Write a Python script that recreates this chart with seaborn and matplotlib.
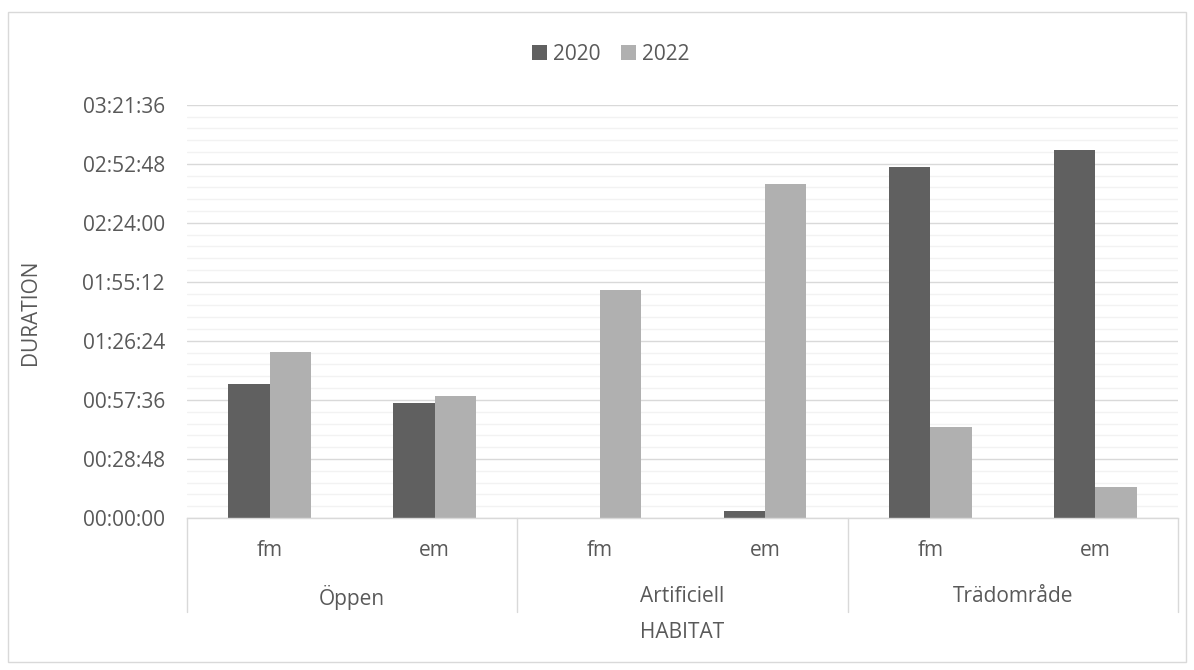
import numpy as np
import pandas as pd
import seaborn as sns
import matplotlib
matplotlib.use("Agg")
import matplotlib.pyplot as plt
from matplotlib.ticker import FuncFormatter, MultipleLocator
from matplotlib.patches import Rectangle, Patch
from matplotlib.lines import Line2D
import matplotlib.transforms as mtransforms

# Habitat groups and the sub-categories within each group
habitats = ["Öppen", "Artificiell", "Trädområde"]
subcats = ["fm", "em"]
years = ["2020", "2022"]

# Durations in seconds, ordered Öppen fm/em, Artificiell fm/em, Trädområde fm/em
dur_2020 = [3919, 3363, 0, 193, 10266, 10763]
dur_2022 = [4855, 3577, 6668, 9777, 2670, 915]

colors = {"2020": "#606060", "2022": "#b0b0b0"}
text_color = "#595959"
line_color = "#d9d9d9"

keys = [f"{h} {s}" for h in habitats for s in subcats]
df = pd.DataFrame({
    "key": keys * 2,
    "year": ["2020"] * 6 + ["2022"] * 6,
    "duration": dur_2020 + dur_2022,
})

sns.set_theme(style="white")
plt.rcParams["font.family"] = ["Open Sans", "DejaVu Sans"]
fs = 15

fig = plt.figure(figsize=(11.94, 6.70), dpi=100)
ax = fig.add_axes([187 / 1194, 1 - 518 / 670, (1178 - 187) / 1194, (518 - 104.7) / 670])

sns.barplot(data=df, x="key", y="duration", hue="year", order=keys,
            hue_order=years, palette=colors, saturation=1, width=0.5,
            linewidth=0, ax=ax, legend=False)

ymax = 12096
ax.set_ylim(0, ymax)
ax.set_xlim(-0.5, 5.5)
ax.yaxis.set_major_locator(MultipleLocator(1728))
ax.yaxis.set_minor_locator(MultipleLocator(345.6))


def hms(v, pos=None):
    v = int(round(v))
    return f"{v // 3600:02d}:{(v % 3600) // 60:02d}:{v % 60:02d}"


ax.yaxis.set_major_formatter(FuncFormatter(hms))
ax.grid(which="major", axis="y", color=line_color, lw=1.0)
ax.grid(which="minor", axis="y", color="#f2f2f2", lw=1.0)
ax.set_axisbelow(True)
ax.tick_params(axis="y", which="both", length=0, pad=16, labelsize=fs, labelcolor=text_color)
ax.tick_params(axis="x", which="both", length=0, labelbottom=False)
ax.set_xlabel("")
ax.set_ylabel("")
for side in ["top", "right", "left"]:
    ax.spines[side].set_visible(False)
ax.spines["bottom"].set_color(line_color)
ax.spines["bottom"].set_linewidth(1.0)

# Multi-level category axis
trans = mtransforms.blended_transform_factory(ax.transData, ax.transAxes)
px = 1 / (518 - 104.7)
y_sub = -(550 - 518) * px
y_grp = -(597 - 518) * px
y_box = -(611.7 - 518) * px
y_lab = -(632 - 518) * px
for i, k in enumerate(keys):
    ax.text(i, y_sub, k.split(" ")[-1], transform=trans, ha="center", va="center",
            fontsize=fs, color=text_color)
for g, h in enumerate(habitats):
    ax.text(2 * g + 0.5, y_grp, h, transform=trans, ha="center", va="center",
            fontsize=fs, color=text_color)
for xb in [-0.5, 1.5, 3.5, 5.5]:
    ax.add_line(Line2D([xb, xb], [0, y_box], transform=trans, color=line_color,
                       lw=1.0, clip_on=False))
ax.text(2.5, y_lab, "HABITAT", transform=trans, ha="center", va="center",
        fontsize=fs, color=text_color)

fig.text(30 / 1194, 1 - 312 / 670, "DURATION", rotation=90, ha="center", va="center",
         fontsize=fs, color=text_color)

handles = [Patch(facecolor=colors[y], edgecolor="none", label=y) for y in years]
fig.legend(handles=handles, loc="center", bbox_to_anchor=(611 / 1194, 1 - 54 / 670),
           ncol=2, frameon=False, fontsize=fs, labelcolor=text_color,
           handlelength=0.7, handleheight=0.7, handletextpad=0.3, columnspacing=1.0)

fig.patches.append(Rectangle((8 / 1194, 8 / 670), 1178 / 1194, 650 / 670,
                             transform=fig.transFigure, fill=False,
                             edgecolor=line_color, lw=1.0))

fig.savefig("out.png", dpi=100, facecolor="white")
